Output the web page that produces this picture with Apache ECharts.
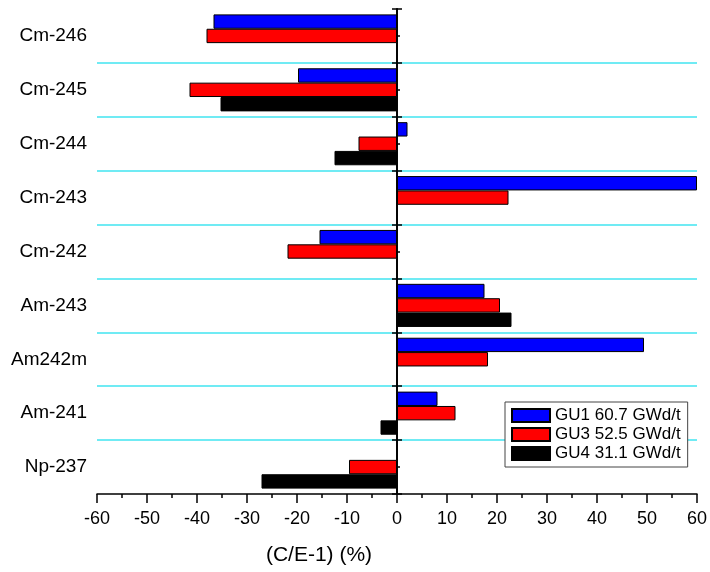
<!DOCTYPE html>
<html>
<head>
<meta charset="utf-8">
<script src="https://cdn.jsdelivr.net/npm/echarts@6/dist/echarts.min.js"></script>
<style>
  html, body { margin: 0; padding: 0; background: #fff; }
  #chart { width: 710px; height: 572px; }
</style>
</head>
<body>
<div id="chart"></div>
<script>
// nuclides, bottom to top
const nuclides = ['Np-237', 'Am-241', 'Am242m', 'Am-243', 'Cm-242', 'Cm-243', 'Cm-244', 'Cm-245', 'Cm-246'];
const gu1 = [null, 8.1, 49.4, 17.5, -15.5, 60, 2.1, -19.8, -36.7];
const gu3 = [-9.6, 11.7, 18.2, 20.6, -21.9, 22.3, -7.7, -41.5, -38.1];
const gu4 = [-27.1, -3.3, null, 22.9, null, null, -12.5, -35.3, null];
const seriesNames = ['GU1 60.7 GWd/t', 'GU3 52.5 GWd/t', 'GU4 31.1 GWd/t'];
const seriesColors = ['#0000ff', '#ff0000', '#000000'];

const font = 'Arial, "Liberation Sans", sans-serif';
const chart = echarts.init(document.getElementById('chart'));

// zero line axes (ticks on both sides + small ones at centres)
const zeroAxis = (position, tickLen, alignWithLabel) => ({
    type: 'category',
    data: nuclides,
    position: position,
    axisLine: { show: true, onZero: true, onZeroAxisIndex: 0, lineStyle: { color: '#000', width: 1.5 } },
    axisTick: { show: true, length: tickLen, alignWithLabel: alignWithLabel, lineStyle: { color: '#000', width: 1.5 } },
    axisLabel: { show: false },
    splitLine: { show: false }
});

const makeSeries = (data, i) => ({
    name: seriesNames[i],
    type: 'bar',
    yAxisIndex: 0,
    data: data,
    barCategoryGap: '20%',
    barGap: '0%',
    itemStyle: { color: seriesColors[i], borderColor: '#000', borderWidth: 1 }
});

chart.setOption({
    animation: false,
    grid: { left: 97, right: 13, top: 9, bottom: 78, outerBoundsMode: 'none' },
    legend: {
        orient: 'vertical',
        left: 505,
        top: 402,
        data: seriesNames,
        icon: 'rect',
        padding: [5, 7, 5, 6],
        itemWidth: 38,
        itemHeight: 13,
        itemGap: 2,
        borderColor: '#444',
        borderWidth: 1,
        borderRadius: 0,
        backgroundColor: '#fff',
        textStyle: { fontFamily: font, fontSize: 17, color: '#000' }
    },
    xAxis: {
        type: 'value',
        min: -60,
        max: 60,
        interval: 10,
        name: '(C/E-1) (%)',
        nameLocation: 'middle',
        nameGap: 51,
        nameTextStyle: { fontFamily: font, fontSize: 21, color: '#000', padding: [0, 156, 0, 0] },
        axisLine: { show: true, onZero: false, lineStyle: { color: '#000', width: 1.5 } },
        axisTick: { show: true, length: 9, lineStyle: { color: '#000', width: 1.5 } },
        minorTick: { show: true, splitNumber: 2, length: 4, lineStyle: { color: '#000', width: 1.5 } },
        axisLabel: { fontFamily: font, fontSize: 18, color: '#000', margin: 16 },
        splitLine: { show: false }
    },
    yAxis: [
        {
            type: 'category',
            data: nuclides,
            position: 'left',
            axisLine: { show: false, onZero: false },
            axisTick: { show: false },
            axisLabel: { fontFamily: font, fontSize: 19, color: '#000', margin: 10 },
            splitLine: { show: true, showMinLine: false, showMaxLine: false, lineStyle: { color: '#40e4f0', width: 1.5 } }
        },
        zeroAxis('left', 5, false),
        zeroAxis('right', 5, false),
        zeroAxis('right', 3, true)
    ],
    series: [makeSeries(gu1, 0), makeSeries(gu3, 1), makeSeries(gu4, 2)]
});
</script>
</body>
</html>
